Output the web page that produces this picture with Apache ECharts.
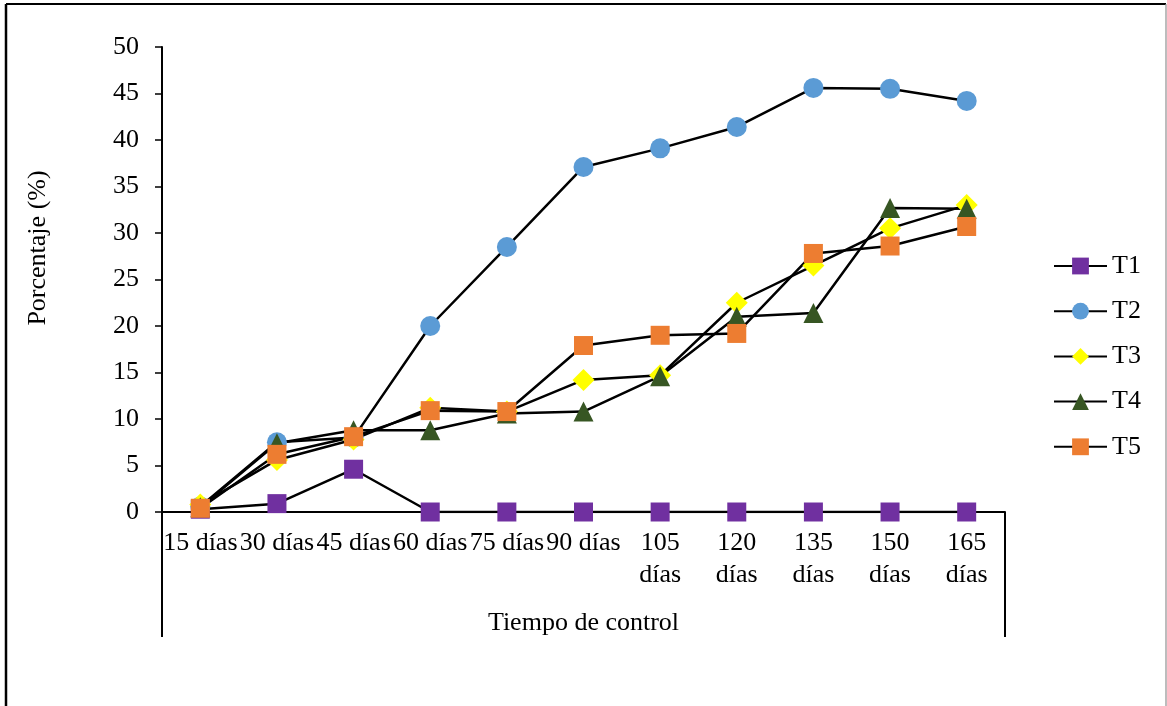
<!DOCTYPE html>
<html>
<head>
<meta charset="utf-8">
<script src="https://cdn.jsdelivr.net/npm/echarts@6/dist/echarts.min.js"></script>
<style>
  html, body { margin: 0; padding: 0; background: #fff; }
  #chart { width: 1167px; height: 706px; }
</style>
</head>
<body>
<div id="chart"></div>
<script>
// Sampling times and their axis labels (long ones wrap onto two lines)
const categories = ['15 días', '30 días', '45 días', '60 días', '75 días', '90 días',
  '105 días', '120 días', '135 días', '150 días', '165 días'];
const tickLabels = ['15 días', '30 días', '45 días', '60 días', '75 días', '90 días',
  '105\ndías', '120\ndías', '135\ndías', '150\ndías', '165\ndías'];
const yTicks = [0, 5, 10, 15, 20, 25, 30, 35, 40, 45, 50];

// Percentage per treatment
const T1 = [0.3, 0.9, 4.6, 0, 0, 0, 0, 0, 0, 0, 0];
const T2 = [0.6, 7.5, 8.0, 20.0, 28.5, 37.1, 39.1, 41.4, 45.6, 45.5, 44.2];
const T3 = [0.8, 5.6, 7.8, 11.2, 10.8, 14.2, 14.7, 22.5, 26.5, 30.5, 33.0];
const T4 = [0.5, 7.4, 8.8, 8.8, 10.6, 10.8, 14.6, 21.0, 21.4, 32.7, 32.6];
const T5 = [0.4, 6.2, 8.1, 10.9, 10.8, 17.9, 19.0, 19.2, 27.8, 28.6, 30.7];

const FONT = '"Liberation Serif", "Times New Roman", serif';
const FS = 26;
const W = 1167, H = 706;
const grid = { left: 162, right: 162, top: 47, bottom: 194 };
const plotLeft = grid.left, plotRight = W - grid.right, axisY = H - grid.bottom;

function lineSeries(name, data, symbol, size, color) {
  return {
    name: name,
    type: 'line',
    data: data,
    symbol: symbol,
    symbolSize: size,
    showAllSymbol: true,
    lineStyle: { color: '#000', width: 2.5 },
    itemStyle: { color: color },
    emphasis: { disabled: true },
    animation: false
  };
}

const chart = echarts.init(document.getElementById('chart'), null, { renderer: 'canvas' });
chart.setOption({
  backgroundColor: '#fff',
  animation: false,
  grid: grid,
  legend: {
    orient: 'vertical',
    left: 1053,
    top: 253,
    padding: 0,
    itemWidth: 53,
    itemHeight: 21,
    itemGap: 19.2,
    textStyle: { fontFamily: FONT, fontSize: FS, color: '#000', lineHeight: 26 },
    data: ['T1', 'T2', 'T3', 'T4', 'T5']
  },
  xAxis: {
    type: 'category',
    data: categories,
    boundaryGap: true,
    name: 'Tiempo de control',
    nameLocation: 'middle',
    nameGap: 98,
    nameTextStyle: { fontFamily: FONT, fontSize: FS, color: '#000' },
    axisLine: { lineStyle: { color: '#000', width: 2 } },
    axisTick: { show: false },
    axisLabel: {
      interval: 0,
      margin: 15,
      fontFamily: FONT,
      fontSize: FS,
      lineHeight: 32,
      color: '#000',
      formatter: function (v, i) { return tickLabels[i]; }
    },
    splitLine: { show: false }
  },
  yAxis: {
    type: 'value',
    min: yTicks[0],
    max: yTicks[yTicks.length - 1],
    interval: 5,
    axisLine: { show: true, lineStyle: { color: '#000', width: 2 } },
    axisTick: { show: true, length: 7, lineStyle: { color: '#000', width: 1.5 } },
    axisLabel: { margin: 23, fontFamily: FONT, fontSize: FS, color: '#000' },
    splitLine: { show: false }
  },
  graphic: [
    // frame around the chart
    { type: 'line', shape: { x1: 6, y1: 4, x2: 1166, y2: 4 }, style: { stroke: '#000', lineWidth: 2 } },
    { type: 'line', shape: { x1: 6, y1: 4, x2: 6, y2: H }, style: { stroke: '#000', lineWidth: 2.5 } },
    { type: 'line', shape: { x1: 1166, y1: 4, x2: 1166, y2: H }, style: { stroke: '#999', lineWidth: 1.3 } },
    // category group brackets below the axis
    { type: 'line', shape: { x1: plotLeft, y1: axisY, x2: plotLeft, y2: 637 }, style: { stroke: '#000', lineWidth: 2 } },
    { type: 'line', shape: { x1: plotRight, y1: axisY, x2: plotRight, y2: 637 }, style: { stroke: '#000', lineWidth: 2 } },
    // vertical axis title
    {
      type: 'text',
      x: 38, y: 248,
      rotation: Math.PI / 2,
      style: { text: 'Porcentaje (%)', fontFamily: FONT, fontSize: FS, fill: '#000', align: 'center', verticalAlign: 'middle' }
    }
  ],
  series: [
    lineSeries('T1', T1, 'rect', 19, '#7030A0'),
    lineSeries('T2', T2, 'circle', 20, '#5B9BD5'),
    lineSeries('T3', T3, 'diamond', 22, '#FFFF00'),
    lineSeries('T4', T4, 'triangle', 20, '#375623'),
    lineSeries('T5', T5, 'rect', 19, '#ED7D31')
  ]
});
</script>
</body>
</html>
